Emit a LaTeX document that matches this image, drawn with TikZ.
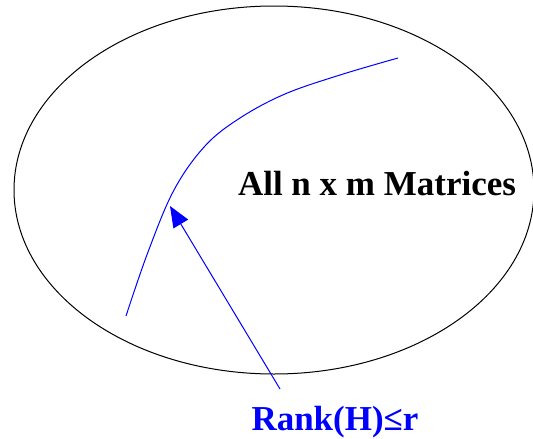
\documentclass[tikz,border=0pt]{standalone}
\usepackage{fontspec}
\setmainfont{Liberation Serif}
\usetikzlibrary{arrows.meta}
\begin{document}
\begin{tikzpicture}[x=1pt, y=-1pt]
    \useasboundingbox (0,0) rectangle (533,439);

    % Set of all matrices
    \draw[line width=1pt] (274,190) ellipse (260 and 184);
    \node[font=\fontsize{35}{40}\selectfont\bfseries, anchor=base] (allmat) at (377,195) {All n x m Matrices};

    % Rank constrained subset
    \draw[blue, line width=1pt] plot[smooth, tension=0.6] coordinates {(126,316) (148,252) (174,190) (205,146) (240,118) (285,94) (340,75) (398,58)};

    % Label and pointer
    \node[blue, font=\fontsize{35}{40}\selectfont\bfseries, anchor=base] (rank) at (335,430) {Rank(H)≤r};
    \coordinate (from) at (280,389);
    \coordinate (tip) at (170,206);
    \draw[-{Triangle[length=21pt, width=17pt]}, blue, line width=1pt] (from) -- (tip);
\end{tikzpicture}
\end{document}
